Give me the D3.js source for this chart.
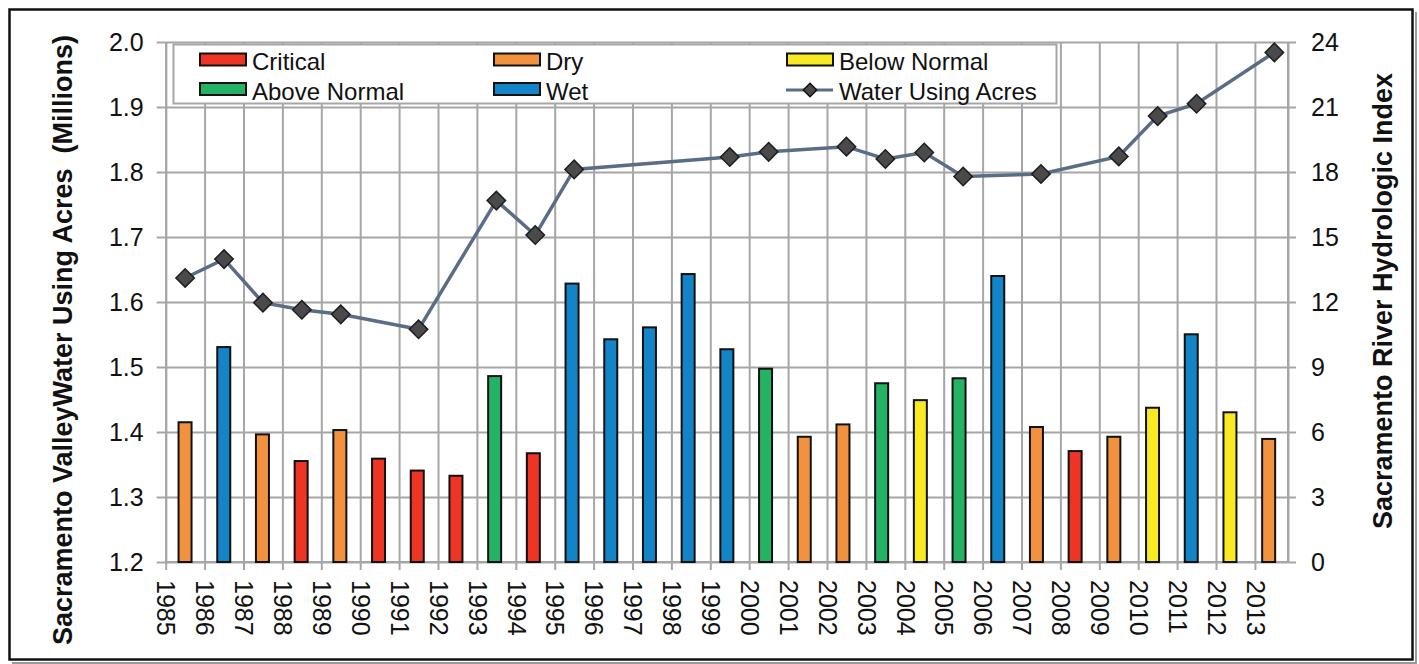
<!DOCTYPE html>
<html>
<head>
<meta charset="utf-8">
<script src="https://cdn.jsdelivr.net/npm/d3@7"></script>
<style>
body { margin: 0; background: #fff; }
svg text { font-family: "Liberation Sans", Arial, sans-serif; fill: #111; }
</style>
</head>
<body>
<svg id="chart" width="1419" height="664"></svg>
<script>
// water year data
var years = [1985, 1986, 1987, 1988, 1989, 1990, 1991, 1992, 1993, 1994,
             1995, 1996, 1997, 1998, 1999, 2000, 2001, 2002, 2003, 2004,
             2005, 2006, 2007, 2008, 2009, 2010, 2011, 2012, 2013];

var yearType = ["Dry", "Wet", "Dry", "Critical", "Dry", "Critical", "Critical", "Critical", "Above Normal", "Critical",
                "Wet", "Wet", "Wet", "Wet", "Wet", "Above Normal", "Dry", "Dry", "Above Normal", "Below Normal",
                "Above Normal", "Wet", "Dry", "Critical", "Dry", "Below Normal", "Wet", "Below Normal", "Dry"];

// Sacramento River Hydrologic Index (right axis)
var hydroIndex = [6.45, 9.92, 5.89, 4.66, 6.09, 4.77, 4.22, 3.98, 8.58, 5.02,
                  12.85, 10.28, 10.83, 13.29, 9.82, 8.92, 5.78, 6.35, 8.25, 7.47,
                  8.48, 13.2, 6.23, 5.12, 5.78, 7.12, 10.51, 6.91, 5.68];

// water using acres, millions (left axis) - no value for some years
var waterAcres = [1.637, 1.666, 1.599, 1.588, 1.581, null, 1.558, null, 1.756, 1.703,
                  1.804, null, null, null, 1.823, 1.831, null, 1.839, 1.820, 1.830,
                  1.793, null, 1.797, null, 1.824, 1.886, 1.905, null, 1.984];

var leftTicks = [1.2, 1.3, 1.4, 1.5, 1.6, 1.7, 1.8, 1.9, 2.0];
var rightTicks = [0, 3, 6, 9, 12, 15, 18, 21, 24];

var typeNames = ["Critical", "Dry", "Below Normal", "Above Normal", "Wet"];
var typeColors = ["#ee3424", "#f2923e", "#f7ea22", "#24b365", "#1384c7"];
var lineName = "Water Using Acres";

var svg = d3.select("#chart");

var plot = {left: 165.7, right: 1288, top: 42, bottom: 562};
var step = 38.9; // category spacing of the line axis

var gridColor = "#a6a6a6";

// outer frame
svg.append("line").attr("x1", 1416).attr("y1", 12).attr("x2", 1416).attr("y2", 663)
  .attr("stroke", "#9a9a9a").attr("stroke-width", 2);
svg.append("line").attr("x1", 12).attr("y1", 663).attr("x2", 1417).attr("y2", 663)
  .attr("stroke", "#9a9a9a").attr("stroke-width", 2);
svg.append("rect")
  .attr("x", 9.5).attr("y", 9.5)
  .attr("width", 1403).attr("height", 650)
  .attr("fill", "none").attr("stroke", "#111").attr("stroke-width", 2.5);

// scales
var yL = d3.scaleLinear().domain([1.2, 2.0]).range([plot.bottom, plot.top]);
var yR = d3.scaleLinear().domain([0, 24]).range([plot.bottom, plot.top]);
var xBar = d3.scaleBand().domain(years).range([plot.left, plot.right]);
var xLine = d3.scaleBand().domain(years).range([plot.left, plot.left + years.length * step]);
var xTick = d3.scalePoint().domain(years).range([plot.left, plot.left + (years.length - 1) * step]);

var color = d3.scaleOrdinal().domain(typeNames).range(typeColors);

// horizontal gridlines
svg.append("g")
  .attr("class", "grid")
  .attr("transform", "translate(" + plot.left + ",0)")
  .call(d3.axisLeft(yL).tickValues(leftTicks).tickSize(-(plot.right - plot.left)).tickFormat(""))
  .call(function(g) { g.select(".domain").remove(); });

// vertical gridlines
svg.append("g")
  .attr("class", "grid")
  .attr("transform", "translate(0," + plot.top + ")")
  .call(d3.axisBottom(xTick).tickSize(plot.bottom - plot.top).tickFormat(""))
  .call(function(g) { g.select(".domain").remove(); });

svg.selectAll(".grid line").attr("stroke", gridColor).attr("stroke-width", 2);

// right edge of plot
svg.append("line")
  .attr("x1", plot.right).attr("x2", plot.right)
  .attr("y1", plot.top).attr("y2", plot.bottom)
  .attr("stroke", gridColor).attr("stroke-width", 2);

// left axis
var gL = svg.append("g")
  .attr("transform", "translate(" + plot.left + ",0)")
  .call(d3.axisLeft(yL).tickValues(leftTicks).tickFormat(d3.format(".1f")).tickSize(9).tickPadding(13).tickSizeOuter(0));

// right axis
var gR = svg.append("g")
  .attr("transform", "translate(" + plot.right + ",0)")
  .call(d3.axisRight(yR).tickValues(rightTicks).tickSize(8).tickPadding(15).tickSizeOuter(0));

// bottom axis
var gB = svg.append("g")
  .attr("transform", "translate(0," + plot.bottom + ")")
  .call(d3.axisBottom(xTick).tickSize(8).tickSizeOuter(0).tickFormat(d3.format("d")));

gB.select(".domain").attr("d", "M" + plot.left + ",0H" + plot.right);

gB.selectAll("text")
  .attr("transform", "rotate(90)")
  .attr("x", 18)
  .attr("y", 0)
  .attr("dy", "0.35em")
  .style("text-anchor", "start");

[gL, gR, gB].forEach(function(g) {
  g.selectAll(".domain").attr("stroke", gridColor).attr("stroke-width", 2);
  g.selectAll(".tick line").attr("stroke", gridColor).attr("stroke-width", 2);
  g.selectAll("text").attr("font-size", 25).attr("fill", "#111")
    .attr("font-family", "'Liberation Sans', Arial, sans-serif");
});

// bars
var barW = 13;
var bars = years.map(function(y, i) { return {year: y, v: hydroIndex[i], type: yearType[i]}; });

svg.append("g").selectAll("rect")
  .data(bars)
  .enter().append("rect")
    .attr("x", function(d) { return xBar(d.year) + (xBar.bandwidth() - barW) / 2; })
    .attr("width", barW)
    .attr("y", function(d) { return yR(d.v); })
    .attr("height", function(d) { return plot.bottom - yR(d.v); })
    .attr("fill", function(d) { return color(d.type); })
    .attr("stroke", "#111")
    .attr("stroke-width", 2);

// line with diamonds
var pts = [];
for (var i = 0; i < years.length; i++) {
  if (waterAcres[i] != null) {
    pts.push({year: years[i], v: waterAcres[i]});
  }
}

var lineGen = d3.line()
  .x(function(d) { return xLine(d.year) + xLine.bandwidth() / 2; })
  .y(function(d) { return yL(d.v); });

svg.append("path")
  .datum(pts)
  .attr("d", lineGen)
  .attr("fill", "none")
  .attr("stroke", "#5a6d86")
  .attr("stroke-width", 3.5);

var diamond = d3.symbol().type(d3.symbolSquare).size(170);

svg.append("g").selectAll("path")
  .data(pts)
  .enter().append("path")
    .attr("d", diamond)
    .attr("transform", function(d) {
      return "translate(" + (xLine(d.year) + xLine.bandwidth() / 2) + "," + yL(d.v) + ") rotate(45)";
    })
    .attr("fill", "#4a4a4a")
    .attr("stroke", "#1e1e1e")
    .attr("stroke-width", 1.5);

// legend
var legend = svg.append("g");
legend.append("rect")
  .attr("x", 173.5).attr("y", 44.5)
  .attr("width", 883).attr("height", 59)
  .attr("fill", "#fff").attr("stroke", gridColor).attr("stroke-width", 2);

var legItems = [
  {name: "Critical", col: 0, row: 0},
  {name: "Dry", col: 1, row: 0},
  {name: "Below Normal", col: 2, row: 0},
  {name: "Above Normal", col: 0, row: 1},
  {name: "Wet", col: 1, row: 1},
  {name: lineName, col: 2, row: 1}
];
var colX = [199, 493, 786];
var rowY = [59.5, 89];

legItems.forEach(function(it) {
  var x0 = colX[it.col], yc = rowY[it.row];
  if (it.name == lineName) {
    legend.append("line")
      .attr("x1", x0).attr("x2", x0 + 47)
      .attr("y1", yc + 1).attr("y2", yc + 1)
      .attr("stroke", "#5a6d86").attr("stroke-width", 3);
    legend.append("path")
      .attr("d", d3.symbol().type(d3.symbolSquare).size(90))
      .attr("transform", "translate(" + (x0 + 24) + "," + (yc + 1) + ") rotate(45)")
      .attr("fill", "#4a4a4a").attr("stroke", "#111").attr("stroke-width", 1.5);
  } else {
    legend.append("rect")
      .attr("x", x0 + 1).attr("y", yc - 6)
      .attr("width", 46).attr("height", 12)
      .attr("fill", color(it.name))
      .attr("stroke", "#111").attr("stroke-width", 2);
  }
  legend.append("text")
    .attr("x", x0 + 53)
    .attr("y", yc + 10.5)
    .attr("font-size", 24)
    .text(it.name);
});

// axis titles
svg.append("text")
  .attr("transform", "translate(72,340) rotate(-90)")
  .attr("text-anchor", "middle")
  .attr("font-size", 27)
  .attr("font-weight", "bold")
  .style("white-space", "pre")
  .text("Sacramento ValleyWater Using Acres  (Millions)");

svg.append("text")
  .attr("transform", "translate(1392,301) rotate(-90)")
  .attr("text-anchor", "middle")
  .attr("font-size", 27)
  .attr("font-weight", "bold")
  .text("Sacramento River Hydrologic Index");
</script>
</body>
</html>
